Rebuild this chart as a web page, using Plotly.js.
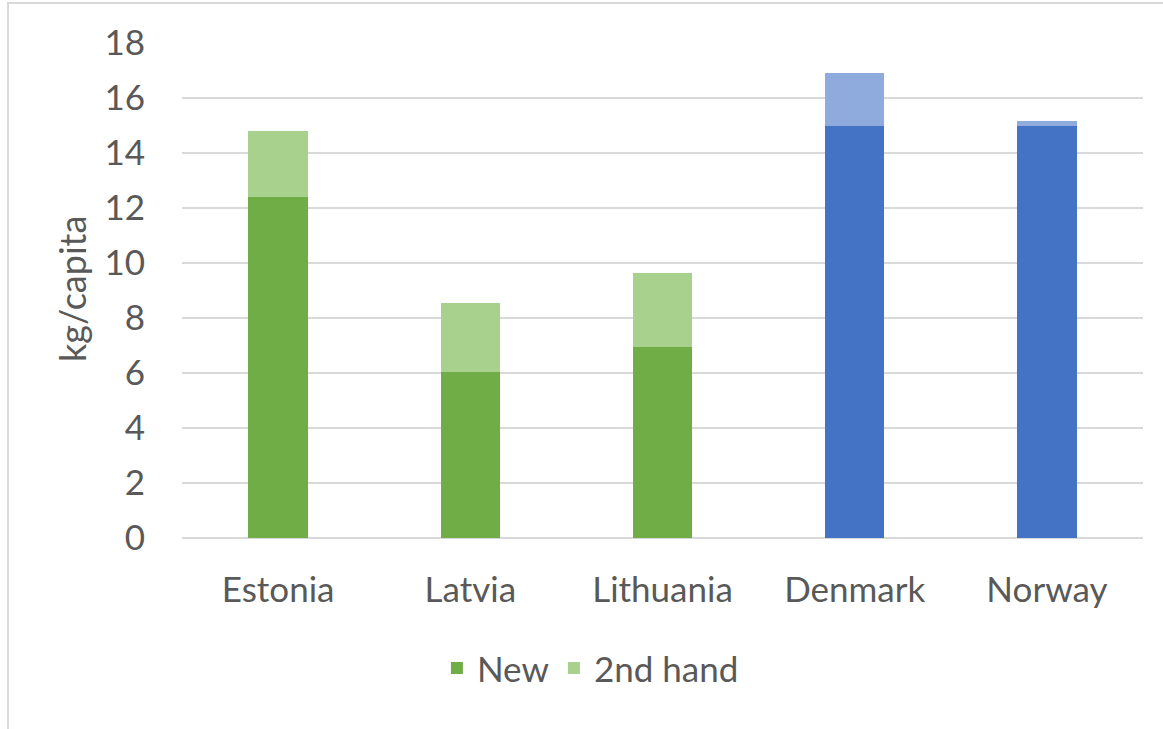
<!DOCTYPE html>
<html>
<head>
<meta charset="utf-8">
<script src="https://cdn.plot.ly/plotly-3.0.1.min.js"></script>
<style>
html,body{margin:0;padding:0;background:#fff;overflow:hidden;}
#chart{width:1163px;height:729px;position:absolute;left:0;top:0;}
#frame{position:absolute;left:7px;top:2px;width:1300px;height:900px;border-left:2px solid #D9D9D9;border-top:2px solid #D9D9D9;pointer-events:none;}
</style>
</head>
<body>
<div id="chart"></div>
<div id="frame"></div>
<script>
const countries = ["Estonia", "Latvia", "Lithuania", "Denmark", "Norway"];
const newValues = [12.4, 6.05, 6.95, 15.0, 15.0];
const secondHandValues = [2.4, 2.5, 2.7, 1.9, 0.15];
const newColors = ["#70AD47", "#70AD47", "#70AD47", "#4472C4", "#4472C4"];
const secondColors = ["#A9D18E", "#A9D18E", "#A9D18E", "#8FAADC", "#8FAADC"];
const yTicks = [0, 2, 4, 6, 8, 10, 12, 14, 16, 18];

const font = "Lato, 'Open Sans', sans-serif";
const txt = "#595959";

const traces = [
  {type: "bar", name: "New", x: countries, y: newValues, marker: {color: newColors}, width: 0.31},
  {type: "bar", name: "2nd hand", x: countries, y: secondHandValues, marker: {color: secondColors}, width: 0.31}
];

const layout = {
  barmode: "stack",
  width: 1163, height: 729,
  margin: {l: 182, r: 20, t: 43, b: 191},
  paper_bgcolor: "rgba(0,0,0,0)",
  plot_bgcolor: "rgba(0,0,0,0)",
  font: {family: font, color: txt, size: 35},
  xaxis: {
    showgrid: false, showline: false, ticks: "",
    tickfont: {size: 35, color: txt, family: font},
    ticklabelstandoff: 28
  },
  yaxis: {
    range: [0, 18], tickvals: yTicks, ticktext: yTicks.map(String),
    gridcolor: "#D9D9D9", gridwidth: 2,
    zeroline: true, zerolinecolor: "#D9D9D9", zerolinewidth: 2,
    showline: false, ticks: "",
    tickfont: {size: 35, color: txt, family: font},
    ticklabelstandoff: 36
  },
  legend: {
    orientation: "h", x: 0.425, xanchor: "center", y: -0.263, yanchor: "middle",
    font: {size: 35, color: txt, family: font},
    itemwidth: 30, traceorder: "normal"
  },
  annotations: [{
    text: "kg/capita", xref: "paper", yref: "paper",
    x: (72 - 182) / 961, y: 0.503, xanchor: "center", yanchor: "middle",
    textangle: -90, showarrow: false,
    font: {size: 36, color: txt, family: font}
  }],
  showlegend: true
};

Plotly.newPlot("chart", traces, layout, {displayModeBar: false, staticPlot: true});
</script>
</body>
</html>
